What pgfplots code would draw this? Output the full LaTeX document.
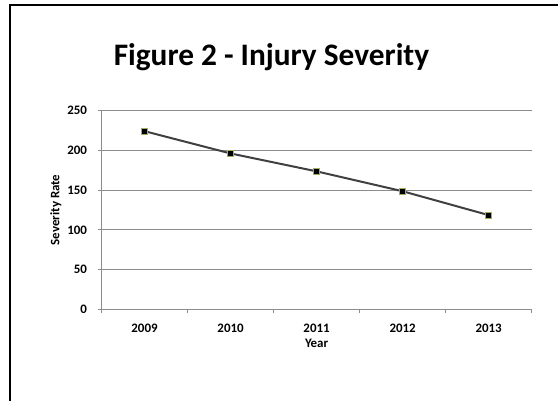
\documentclass[border=0pt]{standalone}
\usepackage{pgfplots}
\pgfplotsset{compat=1.18}
\usepackage{fontspec}
\setmainfont{Carlito}

\definecolor{gridgray}{HTML}{8C8C8C}
\definecolor{linegray}{HTML}{404040}
\definecolor{markgreen}{HTML}{9BB059}

\begin{document}
\begin{tikzpicture}[x=1bp,y=1bp]
  % page box and the frame (top and left edges only)
  \path (0,0) rectangle (559,402);
  \draw[line width=2.2bp] (10,0) -- (10,397) -- (559,397);

  \node[anchor=base, font=\fontsize{31.5}{36}\selectfont\bfseries] at (272,336) {Figure 2 - Injury Severity};

  \begin{axis}[
    at={(101.7bp,92bp)}, anchor=south west,
    scale only axis,
    width=431bp, height=199.3bp,
    xmin=-0.5, xmax=4.5,
    ymin=0, ymax=250,
    ytick={0,50,...,250},
    xtick={0,...,4},
    xticklabels={2009,2010,2011,2012,2013},
    minor xtick={-0.5,0.5,...,4.5},
    major x tick style={draw=none},
    tick align=outside,
    major tick length=4bp,
    minor tick length=4bp,
    tick style={gridgray, line width=0.8bp},
    axis lines*=left,
    axis line style={gridgray, line width=0.8bp, -},
    ymajorgrids,
    grid style={gridgray, line width=0.8bp},
    ticklabel style={font=\fontsize{13}{15}\selectfont\bfseries},
    label style={font=\fontsize{13}{15}\selectfont\bfseries},
    /pgf/number format/assume math mode=true,
    xticklabel style={inner sep=0pt, yshift=-10bp},
    yticklabel style={xshift=-7bp},
    xlabel={Year},
    ylabel={Severity Rate},
    xlabel style={at={(axis description cs:0.5,0)}, anchor=base, inner sep=0pt, yshift=-38bp},
    ylabel style={yshift=-1bp},
  ]
    \addplot[linegray, line width=2bp, mark=square*,
      mark size=3bp, mark options={fill=black, draw=markgreen, line width=1bp}]
      coordinates {(0,224) (1,196) (2,173.5) (3,148.5) (4,118.5)};
  \end{axis}
\end{tikzpicture}
\end{document}
